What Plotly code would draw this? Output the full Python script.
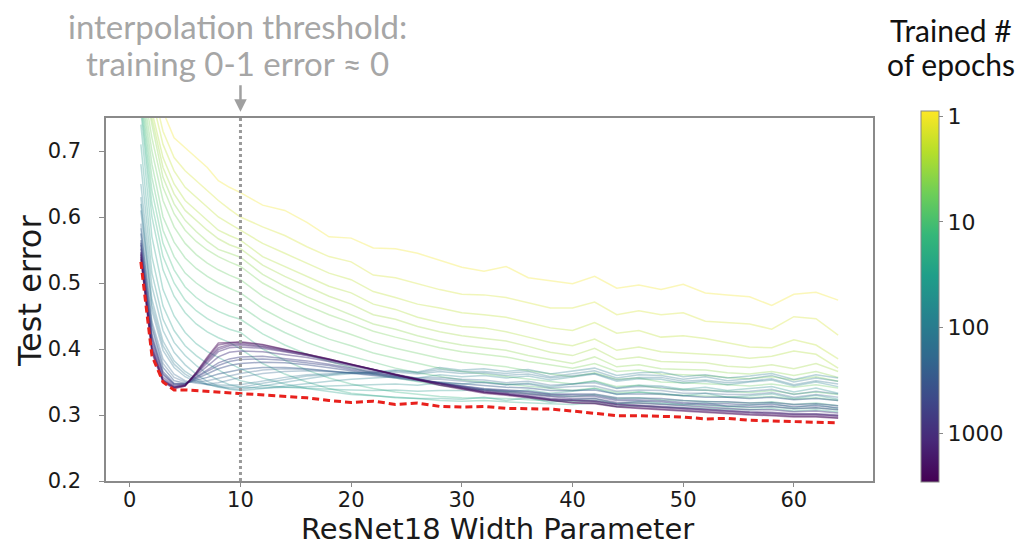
import math
import plotly.graph_objects as go
from plotly.colors import sample_colorscale

# ---------------- data ----------------
widths = [1, 2, 3, 4, 5, 6, 7, 8, 9, 10, 12, 14, 16, 18, 20, 22, 24, 26, 28, 30,
          32, 34, 36, 38, 40, 42, 44, 46, 48, 50, 52, 54, 56, 58, 60, 62, 64]

epochs = [1, 1.5, 2, 2.5, 3, 4, 5, 6.5, 8, 10, 13, 17, 22, 30, 40, 55, 75, 100,
          120, 140, 200, 240, 280, 400, 480, 560, 800, 1100, 1300, 1600, 2200, 3000]

err_e1 = [0.90, 0.84, 0.76, 0.72, 0.705, 0.69, 0.675, 0.655, 0.645, 0.637,
          0.618, 0.61, 0.592, 0.57, 0.568, 0.553, 0.552, 0.545, 0.534, 0.524,
          0.518, 0.525, 0.508, 0.503, 0.499, 0.51, 0.492, 0.497, 0.49, 0.498,
          0.485, 0.482, 0.479, 0.466, 0.483, 0.486, 0.474]
err_e1_5 = [0.88, 0.80, 0.73, 0.69, 0.67, 0.655, 0.64, 0.625, 0.612, 0.600,
            0.585, 0.572, 0.555, 0.54, 0.532, 0.512, 0.508, 0.499, 0.49, 0.483,
            0.482, 0.478, 0.47, 0.462, 0.462, 0.471, 0.452, 0.458, 0.452, 0.455,
            0.442, 0.44, 0.438, 0.43, 0.449, 0.446, 0.421]
err_e2 = [0.86, 0.78, 0.71, 0.67, 0.645, 0.63, 0.615, 0.60, 0.59, 0.58,
          0.56, 0.545, 0.53, 0.515, 0.505, 0.487, 0.478, 0.468, 0.462, 0.455,
          0.452, 0.448, 0.44, 0.432, 0.428, 0.44, 0.424, 0.428, 0.418, 0.42,
          0.416, 0.41, 0.403, 0.402, 0.414, 0.406, 0.385]
err_e2_5 = [0.85, 0.76, 0.69, 0.65, 0.625, 0.61, 0.595, 0.58, 0.572, 0.565,
            0.54, 0.525, 0.51, 0.495, 0.485, 0.468, 0.46, 0.448, 0.44, 0.434,
            0.432, 0.426, 0.418, 0.41, 0.405, 0.415, 0.398, 0.403, 0.396, 0.394,
            0.392, 0.39, 0.386, 0.389, 0.397, 0.392, 0.371]
err_e3 = [0.84, 0.75, 0.675, 0.635, 0.61, 0.595, 0.58, 0.567, 0.558, 0.552,
          0.527, 0.51, 0.495, 0.48, 0.468, 0.452, 0.445, 0.434, 0.426, 0.42,
          0.416, 0.412, 0.404, 0.395, 0.39, 0.401, 0.384, 0.388, 0.381, 0.38,
          0.379, 0.374, 0.372, 0.376, 0.37, 0.378, 0.366]
err_e4 = [0.83, 0.74, 0.66, 0.62, 0.595, 0.578, 0.563, 0.551, 0.545, 0.539,
          0.513, 0.495, 0.479, 0.465, 0.452, 0.438, 0.43, 0.42, 0.412, 0.406,
          0.402, 0.398, 0.39, 0.384, 0.378, 0.388, 0.373, 0.376, 0.37, 0.369,
          0.368, 0.364, 0.362, 0.366, 0.36, 0.366, 0.357]
err_e5 = [0.82, 0.72, 0.645, 0.605, 0.58, 0.563, 0.55, 0.54, 0.532, 0.525,
          0.50, 0.482, 0.466, 0.452, 0.44, 0.427, 0.418, 0.41, 0.402, 0.396,
          0.392, 0.388, 0.381, 0.376, 0.371, 0.378, 0.366, 0.368, 0.362, 0.361,
          0.36, 0.357, 0.355, 0.358, 0.353, 0.358, 0.351]
err_e6_5 = [0.81, 0.70, 0.625, 0.585, 0.56, 0.543, 0.53, 0.52, 0.512, 0.505,
            0.48, 0.462, 0.447, 0.433, 0.422, 0.41, 0.401, 0.393, 0.386, 0.38,
            0.376, 0.373, 0.367, 0.362, 0.358, 0.364, 0.354, 0.356, 0.35, 0.349,
            0.348, 0.346, 0.344, 0.347, 0.342, 0.346, 0.341]
err_e8 = [0.80, 0.68, 0.60, 0.562, 0.538, 0.522, 0.51, 0.50, 0.492, 0.485,
          0.461, 0.443, 0.428, 0.415, 0.405, 0.394, 0.386, 0.378, 0.371, 0.366,
          0.362, 0.359, 0.354, 0.35, 0.347, 0.352, 0.343, 0.345, 0.34, 0.339,
          0.338, 0.336, 0.334, 0.337, 0.332, 0.335, 0.331]
err_e10 = [0.79, 0.66, 0.58, 0.54, 0.515, 0.50, 0.488, 0.479, 0.471, 0.465,
           0.442, 0.425, 0.41, 0.398, 0.389, 0.379, 0.371, 0.364, 0.358, 0.353,
           0.35, 0.347, 0.343, 0.34, 0.337, 0.341, 0.334, 0.335, 0.331, 0.33,
           0.329, 0.327, 0.326, 0.328, 0.324, 0.326, 0.322]
err_e13 = [0.78, 0.64, 0.56, 0.52, 0.494, 0.478, 0.466, 0.457, 0.45, 0.445,
           0.423, 0.406, 0.392, 0.381, 0.372, 0.363, 0.356, 0.35, 0.345, 0.341,
           0.338, 0.336, 0.333, 0.33, 0.328, 0.331, 0.325, 0.326, 0.323, 0.322,
           0.321, 0.319, 0.318, 0.32, 0.316, 0.318, 0.314]
err_e17 = [0.77, 0.62, 0.54, 0.50, 0.474, 0.458, 0.446, 0.437, 0.43, 0.425,
           0.40, 0.383, 0.368, 0.356, 0.347, 0.34, 0.335, 0.331, 0.328, 0.326,
           0.326, 0.325, 0.323, 0.321, 0.32, 0.322, 0.317, 0.318, 0.316, 0.315,
           0.314, 0.312, 0.311, 0.313, 0.309, 0.311, 0.308]
err_e22 = [0.76, 0.60, 0.52, 0.48, 0.455, 0.438, 0.426, 0.417, 0.41, 0.40,
           0.378, 0.362, 0.35, 0.34, 0.333, 0.33, 0.326, 0.325, 0.322, 0.321,
           0.322, 0.32, 0.318, 0.317, 0.316, 0.318, 0.313, 0.314, 0.312, 0.311,
           0.31, 0.309, 0.308, 0.31, 0.306, 0.308, 0.305]
err_e30 = [0.74, 0.57, 0.49, 0.45, 0.425, 0.408, 0.396, 0.387, 0.378, 0.37,
           0.356, 0.347, 0.34, 0.335, 0.331, 0.329, 0.327, 0.325, 0.325, 0.324,
           0.327, 0.322, 0.326, 0.319, 0.323, 0.325, 0.317, 0.321, 0.318, 0.316,
           0.319, 0.313, 0.315, 0.318, 0.311, 0.316, 0.31]
err_e40 = [0.71, 0.54, 0.465, 0.428, 0.405, 0.39, 0.378, 0.368, 0.359, 0.352,
           0.345, 0.342, 0.34, 0.339, 0.338, 0.337, 0.338, 0.336, 0.337, 0.337,
           0.339, 0.335, 0.338, 0.333, 0.336, 0.34, 0.331, 0.335, 0.333, 0.329,
           0.333, 0.327, 0.329, 0.332, 0.325, 0.33, 0.324]
err_e55 = [0.68, 0.515, 0.445, 0.41, 0.39, 0.375, 0.362, 0.353, 0.346, 0.342,
           0.341, 0.342, 0.343, 0.344, 0.345, 0.346, 0.347, 0.345, 0.349, 0.347,
           0.35, 0.346, 0.348, 0.343, 0.347, 0.351, 0.341, 0.345, 0.344, 0.339,
           0.342, 0.337, 0.34, 0.343, 0.335, 0.341, 0.333]
err_e75 = [0.65, 0.495, 0.428, 0.395, 0.376, 0.362, 0.351, 0.344, 0.339, 0.337,
           0.34, 0.344, 0.348, 0.351, 0.354, 0.356, 0.358, 0.356, 0.361, 0.358,
           0.36, 0.356, 0.359, 0.353, 0.357, 0.362, 0.351, 0.355, 0.354, 0.348,
           0.351, 0.346, 0.35, 0.353, 0.344, 0.35, 0.343]
err_e100 = [0.63, 0.475, 0.412, 0.382, 0.366, 0.355, 0.347, 0.342, 0.34, 0.339,
            0.344, 0.35, 0.355, 0.36, 0.363, 0.366, 0.368, 0.365, 0.372, 0.368,
            0.37, 0.366, 0.369, 0.362, 0.366, 0.371, 0.36, 0.364, 0.365, 0.358,
            0.361, 0.356, 0.359, 0.363, 0.354, 0.361, 0.356]
err_e120 = [0.62, 0.466, 0.405, 0.377, 0.362, 0.352, 0.346, 0.343, 0.342, 0.342,
            0.348, 0.354, 0.359, 0.361, 0.365, 0.363, 0.367, 0.364, 0.369, 0.366,
            0.366, 0.363, 0.366, 0.358, 0.363, 0.367, 0.356, 0.361, 0.36, 0.354,
            0.358, 0.352, 0.355, 0.36, 0.35, 0.356, 0.351]
err_e140 = [0.61, 0.458, 0.398, 0.372, 0.358, 0.35, 0.346, 0.345, 0.345, 0.346,
            0.352, 0.357, 0.361, 0.363, 0.364, 0.364, 0.365, 0.362, 0.366, 0.363,
            0.364, 0.36, 0.362, 0.356, 0.359, 0.363, 0.353, 0.357, 0.357, 0.351,
            0.353, 0.349, 0.351, 0.355, 0.346, 0.352, 0.347]
err_e200 = [0.59, 0.442, 0.385, 0.362, 0.352, 0.348, 0.347, 0.349, 0.353, 0.357,
            0.363, 0.366, 0.367, 0.366, 0.364, 0.362, 0.36, 0.356, 0.357, 0.354,
            0.353, 0.349, 0.351, 0.345, 0.347, 0.349, 0.34, 0.343, 0.342, 0.337,
            0.338, 0.335, 0.336, 0.339, 0.331, 0.336, 0.332]
err_e240 = [0.583, 0.437, 0.378, 0.357, 0.35, 0.35, 0.352, 0.356, 0.36, 0.363,
            0.368, 0.37, 0.369, 0.367, 0.364, 0.361, 0.358, 0.354, 0.354, 0.351,
            0.349, 0.346, 0.347, 0.341, 0.343, 0.344, 0.336, 0.338, 0.337, 0.333,
            0.333, 0.331, 0.331, 0.334, 0.327, 0.331, 0.327]
err_e280 = [0.575, 0.432, 0.372, 0.352, 0.348, 0.352, 0.357, 0.362, 0.366, 0.369,
            0.372, 0.372, 0.37, 0.367, 0.364, 0.36, 0.356, 0.352, 0.35, 0.347,
            0.344, 0.342, 0.341, 0.337, 0.337, 0.338, 0.332, 0.332, 0.332, 0.329,
            0.327, 0.327, 0.325, 0.327, 0.323, 0.325, 0.322]
err_e400 = [0.565, 0.422, 0.366, 0.348, 0.347, 0.355, 0.363, 0.37, 0.375, 0.378,
            0.38, 0.379, 0.376, 0.372, 0.367, 0.362, 0.357, 0.352, 0.348, 0.344,
            0.34, 0.338, 0.336, 0.332, 0.332, 0.332, 0.326, 0.326, 0.325, 0.322,
            0.32, 0.32, 0.318, 0.319, 0.316, 0.317, 0.314]
err_e480 = [0.561, 0.418, 0.363, 0.347, 0.347, 0.357, 0.366, 0.375, 0.381, 0.384,
            0.385, 0.383, 0.379, 0.375, 0.369, 0.364, 0.358, 0.353, 0.348, 0.343,
            0.339, 0.337, 0.335, 0.331, 0.33, 0.33, 0.324, 0.323, 0.322, 0.319,
            0.317, 0.317, 0.315, 0.316, 0.313, 0.314, 0.311]
err_e560 = [0.558, 0.415, 0.361, 0.346, 0.347, 0.358, 0.369, 0.379, 0.385, 0.388,
            0.389, 0.386, 0.382, 0.377, 0.371, 0.365, 0.359, 0.353, 0.348, 0.343,
            0.338, 0.336, 0.333, 0.329, 0.328, 0.328, 0.322, 0.321, 0.32, 0.317,
            0.315, 0.314, 0.312, 0.313, 0.31, 0.311, 0.308]
err_e800 = [0.552, 0.41, 0.357, 0.344, 0.346, 0.36, 0.375, 0.388, 0.395, 0.397,
            0.396, 0.392, 0.387, 0.381, 0.374, 0.367, 0.36, 0.354, 0.348, 0.342,
            0.337, 0.334, 0.331, 0.327, 0.325, 0.325, 0.319, 0.318, 0.316, 0.313,
            0.311, 0.31, 0.308, 0.308, 0.305, 0.306, 0.303]
err_e1100 = [0.547, 0.405, 0.354, 0.343, 0.345, 0.362, 0.38, 0.396, 0.402, 0.403,
             0.401, 0.396, 0.39, 0.383, 0.376, 0.368, 0.361, 0.354, 0.348, 0.342,
             0.336, 0.333, 0.329, 0.325, 0.323, 0.322, 0.317, 0.315, 0.313, 0.31,
             0.308, 0.307, 0.305, 0.304, 0.302, 0.302, 0.3]
err_e1300 = [0.545, 0.402, 0.353, 0.342, 0.345, 0.362, 0.382, 0.399, 0.405, 0.406,
             0.403, 0.397, 0.391, 0.384, 0.376, 0.368, 0.361, 0.354, 0.347, 0.341,
             0.335, 0.332, 0.328, 0.324, 0.322, 0.321, 0.316, 0.314, 0.312, 0.309,
             0.307, 0.306, 0.304, 0.303, 0.301, 0.301, 0.299]
err_e1600 = [0.543, 0.40, 0.352, 0.342, 0.345, 0.363, 0.384, 0.402, 0.407, 0.408,
             0.404, 0.398, 0.392, 0.384, 0.377, 0.369, 0.361, 0.354, 0.347, 0.341,
             0.335, 0.332, 0.328, 0.323, 0.321, 0.32, 0.315, 0.313, 0.311, 0.308,
             0.306, 0.305, 0.303, 0.302, 0.3, 0.3, 0.298]
err_e2200 = [0.539, 0.397, 0.351, 0.341, 0.344, 0.364, 0.386, 0.406, 0.409, 0.41,
             0.406, 0.399, 0.393, 0.385, 0.377, 0.369, 0.361, 0.353, 0.346, 0.34,
             0.334, 0.331, 0.327, 0.322, 0.319, 0.318, 0.313, 0.311, 0.309, 0.306,
             0.304, 0.303, 0.301, 0.3, 0.298, 0.298, 0.296]
err_e3000 = [0.536, 0.394, 0.35, 0.34, 0.344, 0.365, 0.388, 0.409, 0.41, 0.411,
             0.407, 0.40, 0.393, 0.385, 0.377, 0.369, 0.36, 0.352, 0.345, 0.339,
             0.333, 0.33, 0.326, 0.321, 0.318, 0.317, 0.312, 0.31, 0.308, 0.305,
             0.303, 0.302, 0.3, 0.299, 0.297, 0.297, 0.295]

best_err = [0.532, 0.39, 0.35, 0.338, 0.338, 0.337, 0.336, 0.335, 0.334, 0.333,
            0.331, 0.328, 0.326, 0.322, 0.319, 0.321, 0.316, 0.318, 0.313, 0.312,
            0.313, 0.31, 0.309, 0.309, 0.306, 0.302, 0.299, 0.299, 0.298, 0.297,
            0.294, 0.295, 0.292, 0.291, 0.291, 0.29, 0.288]

interp_threshold = 10
cbar_tick_epochs = [1, 10, 100, 1000]
y_ticks = [0.2, 0.3, 0.4, 0.5, 0.6, 0.7]
x_ticks = [0, 10, 20, 30, 40, 50, 60]

series = [err_e1, err_e1_5, err_e2, err_e2_5, err_e3, err_e4, err_e5, err_e6_5,
          err_e8, err_e10, err_e13, err_e17, err_e22, err_e30, err_e40, err_e55,
          err_e75, err_e100, err_e120, err_e140, err_e200, err_e240, err_e280,
          err_e400, err_e480, err_e560, err_e800, err_e1100, err_e1300,
          err_e1600, err_e2200, err_e3000]

# ---------------- figure ----------------
CMIN, CMAX = -3.46, 0.05  # colour value = -log10(epochs)
TICK_FONT = "DejaVu Sans"
NOTE_FONT = "Lato"


def line_color(ep, alpha):
    v = -math.log10(ep)
    frac = min(max((v - CMIN) / (CMAX - CMIN), 0), 1)
    c = sample_colorscale("Viridis", [frac])[0]
    nums = [float(t) for t in c[c.index("(") + 1:c.index(")")].split(",")]
    return "rgba(%d,%d,%d,%.2f)" % (round(nums[0]), round(nums[1]), round(nums[2]), alpha)


fig = go.Figure()
for ep, errs in zip(epochs, series):
    alpha = 0.32 if ep < 250 else 0.45
    fig.add_trace(go.Scatter(
        x=widths, y=errs, mode="lines",
        line=dict(color=line_color(ep, alpha), width=1.5),
        showlegend=False, hoverinfo="skip"))

fig.add_trace(go.Scatter(
    x=widths, y=best_err, mode="lines",
    line=dict(color="#e8211d", width=3, dash="7px,4px"),
    showlegend=False, hoverinfo="skip"))

# colorbar carrier
fig.add_trace(go.Scatter(
    x=[None], y=[None], mode="markers",
    marker=dict(color=[CMIN], cmin=CMIN, cmax=CMAX, colorscale="Viridis",
                showscale=True,
                colorbar=dict(
                    x=1.0626, xanchor="left", xpad=0,
                    y=1.0193, yanchor="top", ypad=0,
                    len=371, lenmode="pixels",
                    thickness=18, thicknessmode="pixels",
                    outlinecolor="#888888", outlinewidth=1,
                    tickvals=[-math.log10(e) for e in cbar_tick_epochs],
                    ticktext=[str(e) for e in cbar_tick_epochs],
                    ticks="outside", ticklen=4, tickcolor="#888888",
                    tickfont=dict(family=TICK_FONT, size=22, color="#1a1a1a"))),
    showlegend=False, hoverinfo="skip"))

fig.add_shape(type="line", xref="x", yref="paper",
              x0=interp_threshold, x1=interp_threshold, y0=0, y1=1,
              line=dict(color="#9a9a9a", width=3, dash="dot"), layer="above")

axis_common = dict(showgrid=False, zeroline=False, showline=True, mirror=True,
                   linecolor="#8a8a8a", linewidth=1.5, ticks="outside",
                   tickcolor="#8a8a8a",
                   tickfont=dict(family=TICK_FONT, size=21, color="#1a1a1a"))


def note(text, x, y, size, color, family=NOTE_FONT, **kw):
    return dict(text=text, xref="paper", yref="paper", x=x, y=y,
                xanchor="center", yanchor="middle", showarrow=False,
                font=dict(family=family, size=size, color=color), **kw)


fig.update_layout(
    width=1017, height=546,
    margin=dict(l=106, r=144, t=118, b=65),
    paper_bgcolor="white", plot_bgcolor="white",
    xaxis=dict(range=[-2.15, 67.15], tickvals=x_ticks, ticklen=4,
               ticklabelstandoff=-5, **axis_common),
    yaxis=dict(range=[0.2, 0.75], tickvals=y_ticks, ticklen=5,
               ticklabelstandoff=14,
               ticktext=["%.1f" % t for t in y_ticks], **axis_common),
    annotations=[
        note("interpolation threshold:", 0.1708, 1.254, 33, "#a6a6a6"),
        note("training 0-1 error ≈ 0", 0.1708, 1.152, 33, "#a6a6a6"),
        dict(text="", xref="x", yref="paper", x=interp_threshold, y=1.017,
             ax=0, ay=-28, showarrow=True, arrowhead=2, arrowsize=1,
             arrowwidth=2.5, arrowcolor="#a0a0a0"),
        note("Trained #", 1.1017, 1.243, 30, "#111111"),
        note("of epochs", 1.1017, 1.148, 30, "#111111"),
        note("ResNet18 Width Parameter", 0.511, -0.132, 29, "#1a1a1a",
             family=TICK_FONT),
        note("Test error", -0.0991, 0.526, 32, "#1a1a1a", family=TICK_FONT,
             textangle=-90),
    ],
)

fig.write_html("out.html")
